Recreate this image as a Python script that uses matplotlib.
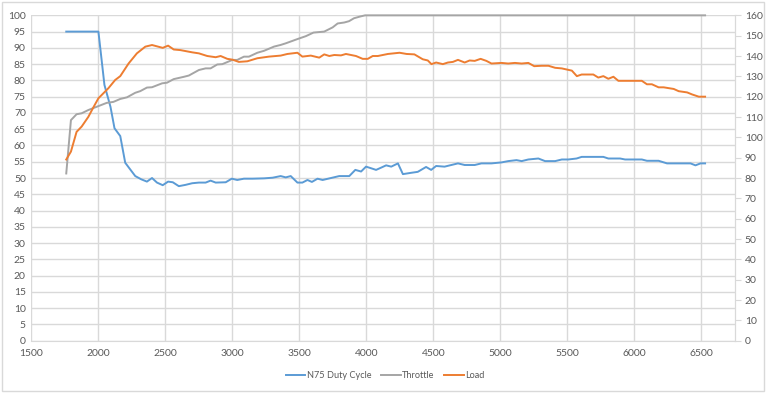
import matplotlib
matplotlib.use("Agg")
import matplotlib.pyplot as plt
from matplotlib.patches import Rectangle

plt.rcParams['font.family'] = ['Lato', 'DejaVu Sans']

# ---- data ----
n75_rpm = [1760, 1800, 1850, 1900, 1950, 2000, 2045, 2090, 2120, 2163, 2200, 2240, 2275,
           2320, 2362, 2400, 2437, 2480, 2520, 2555, 2600, 2650, 2700, 2750, 2800, 2837,
           2875, 2950, 2995, 3036, 3086, 3150, 3236, 3300, 3360, 3398, 3435, 3485, 3522,
           3560, 3593, 3635, 3673, 3735, 3797, 3872, 3917, 3960, 3997, 4035, 4072, 4110,
           4147, 4185, 4235, 4272, 4333, 4383, 4445, 4483, 4520, 4583, 4633, 4683, 4733,
           4808, 4858, 4933, 5008, 5058, 5120, 5158, 5208, 5283, 5333, 5408, 5458, 5506,
           5568, 5606, 5680, 5768, 5805, 5893, 5930, 6055, 6093, 6180, 6243, 6330, 6418,
           6455, 6493, 6527]
n75_val = [95.0, 95.0, 95.0, 95.0, 95.0, 95.0, 78.6, 71.9, 65.3, 62.9, 54.7, 52.5, 50.6,
           49.6, 48.9, 50.0, 48.6, 47.8, 48.9, 48.7, 47.5, 47.9, 48.4, 48.6, 48.6, 49.2,
           48.6, 48.7, 49.8, 49.4, 49.8, 49.8, 49.9, 50.1, 50.6, 50.2, 50.6, 48.6, 48.6,
           49.4, 48.8, 49.8, 49.4, 50.0, 50.6, 50.6, 52.5, 52.0, 53.5, 53.0, 52.5, 53.2,
           53.9, 53.5, 54.5, 51.2, 51.6, 51.9, 53.4, 52.5, 53.7, 53.5, 54.0, 54.5, 54.0,
           54.0, 54.5, 54.5, 54.8, 55.2, 55.5, 55.2, 55.7, 56.0, 55.2, 55.2, 55.7, 55.7,
           56.0, 56.5, 56.5, 56.5, 56.0, 56.0, 55.7, 55.7, 55.3, 55.3, 54.5, 54.5, 54.5,
           53.9, 54.5, 54.5]

thr_rpm = [1760, 1795, 1837, 1875, 1925, 2000, 2062, 2112, 2163, 2213, 2275, 2312, 2362,
           2400, 2475, 2512, 2562, 2637, 2675, 2750, 2800, 2837, 2887, 2925, 3000, 3036,
           3086, 3123, 3186, 3236, 3311, 3360, 3398, 3485, 3548, 3605, 3685, 3748, 3785,
           3835, 3870, 3907, 3950, 3990, 4500, 5000, 5500, 6000, 6527]
thr_val = [51.4, 67.8, 69.6, 69.9, 70.9, 72.1, 73.1, 73.4, 74.3, 74.8, 76.2, 76.7, 77.8,
           77.9, 79.1, 79.3, 80.4, 81.1, 81.5, 83.2, 83.7, 83.7, 84.9, 85.0, 86.3, 86.3,
           87.3, 87.3, 88.5, 89.1, 90.4, 90.9, 91.4, 92.7, 93.6, 94.7, 95.0, 96.3, 97.5,
           97.8, 98.2, 99.1, 99.6, 100.0, 100.0, 100.0, 100.0, 100.0, 100.0]

load_rpm = [1760, 1795, 1837, 1875, 1925, 1962, 2000, 2075, 2125, 2163, 2225, 2287, 2350,
            2400, 2480, 2520, 2562, 2612, 2700, 2750, 2812, 2875, 2912, 2962, 3000, 3048,
            3111, 3186, 3273, 3360, 3410, 3485, 3522, 3585, 3648, 3685, 3723, 3760, 3810,
            3847, 3922, 3972, 4010, 4047, 4085, 4160, 4247, 4300, 4358, 4420, 4458, 4485,
            4520, 4570, 4608, 4645, 4683, 4733, 4770, 4808, 4852, 4895, 4933, 5008, 5058,
            5108, 5158, 5208, 5252, 5308, 5358, 5408, 5458, 5533, 5570, 5606, 5693, 5730,
            5768, 5805, 5843, 5880, 6055, 6093, 6130, 6180, 6218, 6255, 6293, 6330, 6393,
            6430, 6480, 6527]
load_val = [89.1, 93.0, 102.7, 105.3, 110.1, 114.7, 119.2, 124.2, 128.2, 130.1, 136.3, 141.3,
            144.6, 145.4, 144.0, 145.1, 143.2, 142.9, 141.8, 141.3, 140.0, 139.4, 140.0, 138.6,
            138.2, 137.1, 137.4, 138.9, 139.7, 140.2, 141.0, 141.6, 139.7, 140.2, 139.2, 140.8,
            140.0, 140.5, 140.3, 141.0, 140.0, 138.6, 138.6, 140.0, 140.0, 141.0, 141.6, 141.0,
            140.8, 138.4, 137.8, 136.0, 136.8, 136.0, 136.8, 137.1, 138.1, 136.8, 137.8, 137.6,
            138.6, 137.6, 136.3, 136.6, 136.3, 136.6, 136.3, 136.6, 135.0, 135.2, 135.2, 134.2,
            133.9, 132.8, 130.1, 130.9, 130.9, 129.4, 130.1, 128.8, 129.8, 127.8, 127.8, 126.1,
            126.1, 124.6, 124.6, 124.2, 123.8, 122.7, 122.1, 121.1, 120.0, 120.0]

x_ticks = [1500, 2000, 2500, 3000, 3500, 4000, 4500, 5000, 5500, 6000, 6500]
left_ticks = list(range(0, 101, 5))
right_ticks = list(range(0, 161, 10))

# ---- styling ----
BLUE = "#5B9BD5"
GRAY = "#A5A5A5"
ORANGE = "#ED7D31"
GRID = "#D9D9D9"
TXT = "#595959"

fig = plt.figure(figsize=(7.66, 3.93), dpi=100)
fig.patches.append(Rectangle((0.003, 0.006), 0.994, 0.99, transform=fig.transFigure,
                             fill=False, edgecolor=GRID, linewidth=1.0))
ax = fig.add_axes([0.041, 0.133, 0.9185, 0.828])
ax2 = ax.twinx()

l1, = ax.plot(n75_rpm, n75_val, color=BLUE, lw=1.4, label="N75 Duty Cycle")
l2, = ax.plot(thr_rpm, thr_val, color=GRAY, lw=1.4, label="Throttle", clip_on=False)
l3, = ax2.plot(load_rpm, load_val, color=ORANGE, lw=1.4, label="Load")

ax.set_xlim(1500, 6750)
ax.set_ylim(0, 100)
ax2.set_ylim(0, 160)
ax.set_xticks(x_ticks)
ax.set_yticks(left_ticks)
ax2.set_yticks(right_ticks)

ax.grid(True, color=GRID, lw=1.0)
ax.set_axisbelow(True)

for a in (ax, ax2):
    for s in ("top", "left"):
        a.spines[s].set_visible(False)
    a.spines["bottom"].set_color(GRID)
    a.spines["right"].set_color(GRID)
ax2.spines["bottom"].set_visible(False)

ax.tick_params(axis="both", labelsize=7.5, colors=TXT, length=0, pad=4)
ax.tick_params(axis="x", pad=6)
ax2.tick_params(axis="y", labelsize=7.5, colors=TXT, length=4, width=0.8,
                color=GRID, direction="out", pad=3)

fig.legend(handles=[l1, l2, l3], loc="center", bbox_to_anchor=(0.503, 0.045), ncol=3,
           frameon=False, fontsize=6.6, labelcolor=TXT, handlelength=2.1,
           handletextpad=0.15, columnspacing=1.1)

fig.savefig("out.png", dpi=100)
